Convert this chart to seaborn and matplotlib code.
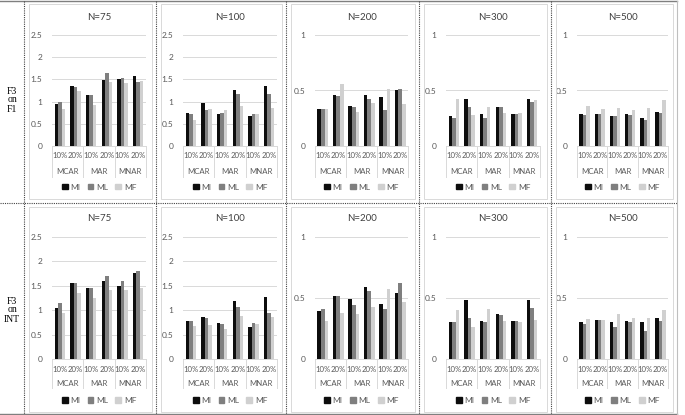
import pandas as pd
import matplotlib
matplotlib.use('Agg')
import matplotlib.pyplot as plt
import matplotlib.transforms as mtransforms
from matplotlib.lines import Line2D
from matplotlib.patches import Rectangle, Patch
import seaborn as sns

# ---- data ----
mechanisms = ['MCAR', 'MAR', 'MNAR']
rates = ['10%', '20%']
methods = ['MI', 'ML', 'MF']
sample_sizes = ['N=75', 'N=100', 'N=200', 'N=300', 'N=500']
row_labels = ['F3\non\nF1', 'F3\non\nINT']

# each panel: [MI, ML, MF], order MCAR10, MCAR20, MAR10, MAR20, MNAR10, MNAR20
f1_n75 = [[0.94, 1.35, 1.15, 1.48, 1.50, 1.57],
          [0.99, 1.32, 1.15, 1.65, 1.54, 1.45],
          [0.83, 1.24, 0.93, 1.45, 1.41, 1.47]]
f1_n100 = [[0.74, 0.96, 0.72, 1.26, 0.68, 1.36],
           [0.72, 0.81, 0.75, 1.16, 0.72, 1.18],
           [0.58, 0.83, 0.81, 0.91, 0.73, 0.86]]
f1_n200 = [[0.33, 0.46, 0.36, 0.46, 0.44, 0.50],
           [0.335, 0.45, 0.35, 0.42, 0.32, 0.51],
           [0.335, 0.56, 0.31, 0.39, 0.51, 0.38]]
f1_n300 = [[0.27, 0.42, 0.29, 0.35, 0.29, 0.42],
           [0.25, 0.35, 0.25, 0.35, 0.29, 0.40],
           [0.42, 0.28, 0.35, 0.30, 0.30, 0.41]]
f1_n500 = [[0.29, 0.29, 0.27, 0.29, 0.25, 0.31],
           [0.28, 0.29, 0.27, 0.28, 0.23, 0.30],
           [0.36, 0.33, 0.34, 0.32, 0.34, 0.41]]

int_n75 = [[1.05, 1.56, 1.46, 1.60, 1.50, 1.76],
           [1.14, 1.55, 1.45, 1.71, 1.59, 1.81],
           [0.95, 1.36, 1.25, 1.42, 1.42, 1.46]]
int_n100 = [[0.77, 0.87, 0.74, 1.19, 0.66, 1.27],
            [0.78, 0.83, 0.71, 1.07, 0.74, 0.95],
            [0.68, 0.69, 0.61, 0.88, 0.72, 0.86]]
int_n200 = [[0.39, 0.52, 0.49, 0.59, 0.45, 0.54],
            [0.41, 0.52, 0.44, 0.56, 0.41, 0.62],
            [0.31, 0.38, 0.37, 0.43, 0.57, 0.47]]
int_n300 = [[0.30, 0.48, 0.31, 0.37, 0.31, 0.48],
            [0.30, 0.34, 0.305, 0.36, 0.31, 0.42],
            [0.40, 0.26, 0.41, 0.31, 0.305, 0.32]]
int_n500 = [[0.30, 0.32, 0.30, 0.31, 0.30, 0.34],
            [0.29, 0.32, 0.26, 0.30, 0.23, 0.31],
            [0.33, 0.32, 0.37, 0.34, 0.34, 0.40]]

panels = [[f1_n75, f1_n100, f1_n200, f1_n300, f1_n500],
          [int_n75, int_n100, int_n200, int_n300, int_n500]]
y_max = [2.5, 2.5, 1, 1, 1]
y_step = [0.5, 0.5, 0.5, 0.5, 0.5]

colors = ['#0d0d0d', '#7f7f7f', '#d0d0d0']

# ---- layout (pixels) ----
W, H = 685, 415
cells_x = [24, 156, 286, 419, 551, 677]
plot_x = [(52, 146), (183, 277), (315, 408), (446, 540), (577, 668)]
rows = [dict(top=35, base=146, box=(4, 199), title=17, lab1=155, lab2=171, sep=177, leg=187, label=100),
        dict(top=237, base=359, box=(207, 412), title=218, lab1=369, lab2=383, sep=388, leg=400, label=310)]

sans = 'Lato'
txt_color = '#595959'
grid_color = '#d9d9d9'

fig = plt.figure(figsize=(W / 100, H / 100), dpi=100)


def fx(px):
    return px / W


def fy(py):
    return 1 - py / H


# table lines
fig.add_artist(Line2D([0, fx(cells_x[-1])], [fy(1.5), fy(1.5)], color='#7f7f7f', lw=1.0))
fig.add_artist(Line2D([0, fx(cells_x[-1])], [fy(413.5), fy(413.5)], color='#7f7f7f', lw=1.0))
fig.add_artist(Line2D([0, fx(cells_x[-1])], [fy(203), fy(203)], color='#444444', lw=0.8, ls=(0, (1, 1))))
for cx in cells_x[:-1]:
    fig.add_artist(Line2D([fx(cx), fx(cx)], [fy(1.5), fy(413.5)], color='#444444', lw=0.8, ls=(0, (1, 1))))
fig.add_artist(Line2D([fx(cells_x[-1]), fx(cells_x[-1])], [fy(1.5), fy(413.5)], color='#bfbfbf', lw=0.8))

cond_labels = [m + ' ' + r for m in mechanisms for r in rates]

for r, row in enumerate(rows):
    fig.text(fx(12), fy(row['label']), row_labels[r], ha='center', va='center',
             family='Liberation Serif', fontsize=7, linespacing=1.0)
    for c in range(5):
        # chart area box
        bx0, bx1 = cells_x[c] + 5, cells_x[c + 1] - 4
        by0, by1 = row['box']
        fig.add_artist(Rectangle((fx(bx0), fy(by1)), fx(bx1 - bx0), (by1 - by0) / H,
                                 fill=False, ec='#d9d9d9', lw=0.7))

        x0, x1 = plot_x[c]
        ax = fig.add_axes([fx(x0), fy(row['base']), fx(x1 - x0), (row['base'] - row['top']) / H])
        vals = panels[r][c]
        df = pd.DataFrame({
            'cond': cond_labels * 3,
            'method': [m for m in methods for _ in cond_labels],
            'value': vals[0] + vals[1] + vals[2],
        })
        sns.barplot(data=df, x='cond', y='value', hue='method', palette=colors,
                    width=0.68, saturation=1, ax=ax, legend=False)

        ymax = y_max[c]
        ax.set_ylim(0, ymax)
        ax.set_xlim(-0.5, 5.5)
        ticks = [i * y_step[c] for i in range(int(round(ymax / y_step[c])) + 1)]
        ax.set_yticks(ticks)
        ax.set_yticklabels([('%g' % t) for t in ticks], fontsize=6, color=txt_color, family=sans)
        ax.tick_params(axis='y', length=0, pad=7)
        ax.set_xticks([])
        ax.set_xlabel('')
        ax.set_ylabel('')
        ax.grid(axis='y', color=grid_color, lw=0.7)
        ax.set_axisbelow(True)
        for s in ['top', 'right', 'left']:
            ax.spines[s].set_visible(False)
        ax.spines['bottom'].set_color(grid_color)
        ax.spines['bottom'].set_linewidth(0.7)
        ax.patch.set_alpha(0)

        blend = mtransforms.blended_transform_factory(ax.transData, fig.transFigure)
        for i, lab in enumerate(cond_labels):
            ax.text(i, fy(row['lab1']), rates[i % 2], transform=blend, ha='center', va='center',
                    fontsize=5.6, color=txt_color, family=sans)
        for j, m in enumerate(mechanisms):
            ax.text(2 * j + 0.5, fy(row['lab2']), m, transform=blend, ha='center', va='center',
                    fontsize=5.6, color=txt_color, family=sans)
        for xs in [-0.5, 1.5, 3.5, 5.5]:
            ax.add_line(Line2D([xs, xs], [fy(row['base']), fy(row['sep'])], transform=blend,
                               color=grid_color, lw=0.7, clip_on=False))

        fig.text(fx((x0 + x1) / 2), fy(row['title']), sample_sizes[c], ha='center', va='center',
                 fontsize=7, color='#404040', family=sans)

        handles = [Patch(color=col) for col in colors]
        ax.legend(handles, methods, loc='center', bbox_to_anchor=(fx((x0 + x1) / 2), fy(row['leg'])),
                  bbox_transform=fig.transFigure, ncol=3, frameon=False,
                  prop={'family': sans, 'size': 6}, handlelength=0.7, handleheight=0.7,
                  handletextpad=0.3, columnspacing=0.9, borderpad=0, labelcolor=txt_color)

fig.savefig('out.png', dpi=100, facecolor='white')
